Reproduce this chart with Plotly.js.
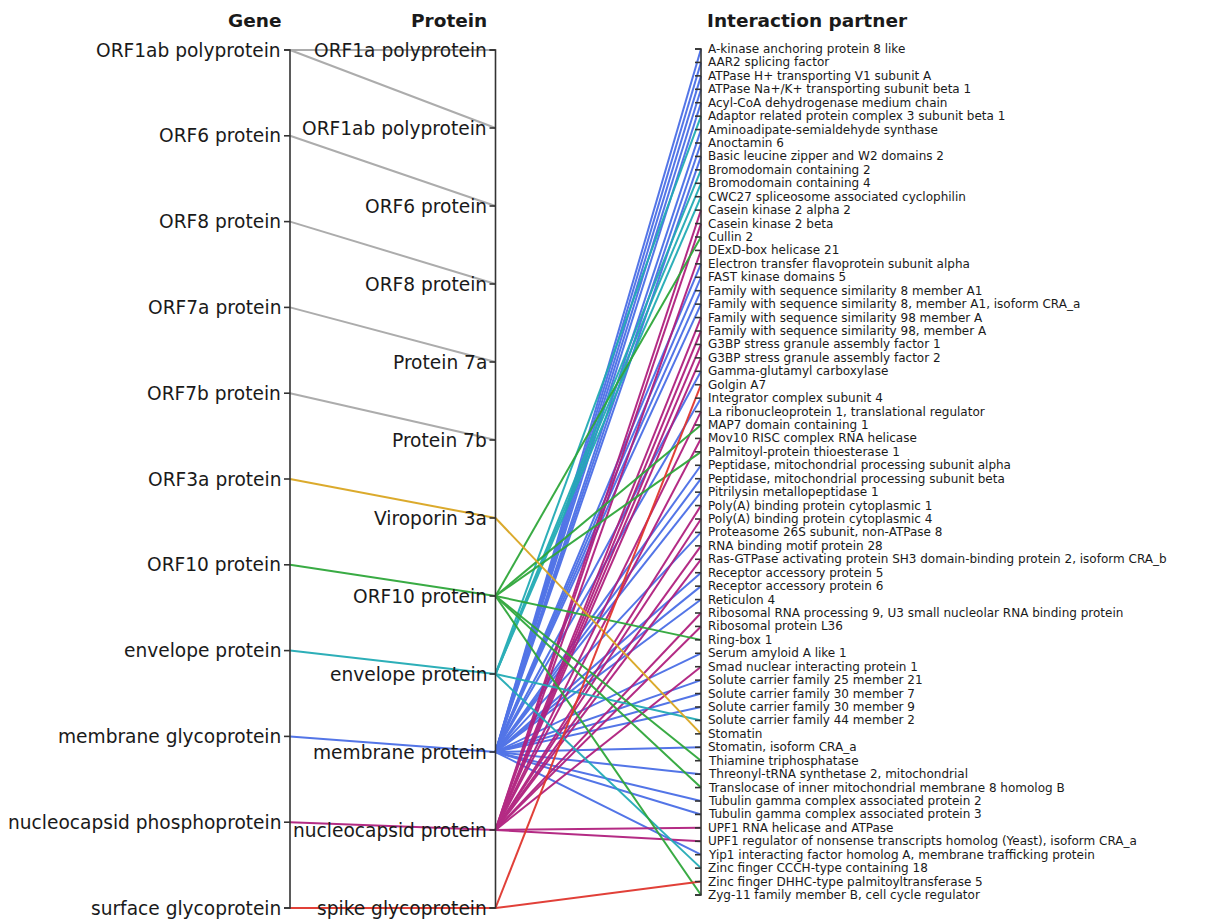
<!DOCTYPE html>
<html>
<head>
<meta charset="utf-8">
<script src="https://cdn.plot.ly/plotly-3.0.1.min.js"></script>
<style>html,body{margin:0;padding:0;background:#fff}#chart{width:1228px;height:921px}</style>
</head>
<body>
<div id="chart"></div>
<script>
// ---------------- DATA ----------------
const axisTitles = ["Gene", "Protein", "Interaction partner"];

const genes = ["ORF1ab polyprotein","ORF6 protein","ORF8 protein","ORF7a protein","ORF7b protein",
  "ORF3a protein","ORF10 protein","envelope protein","membrane glycoprotein",
  "nucleocapsid phosphoprotein","surface glycoprotein"];

const proteins = ["ORF1a polyprotein","ORF1ab polyprotein","ORF6 protein","ORF8 protein","Protein 7a",
  "Protein 7b","Viroporin 3a","ORF10 protein","envelope protein","membrane protein",
  "nucleocapsid protein","spike glycoprotein"];

const partners = [
  "A-kinase anchoring protein 8 like","AAR2 splicing factor","ATPase H+ transporting V1 subunit A",
  "ATPase Na+/K+ transporting subunit beta 1","Acyl-CoA dehydrogenase medium chain",
  "Adaptor related protein complex 3 subunit beta 1","Aminoadipate-semialdehyde synthase","Anoctamin 6",
  "Basic leucine zipper and W2 domains 2","Bromodomain containing 2","Bromodomain containing 4",
  "CWC27 spliceosome associated cyclophilin","Casein kinase 2 alpha 2","Casein kinase 2 beta","Cullin 2",
  "DExD-box helicase 21","Electron transfer flavoprotein subunit alpha","FAST kinase domains 5",
  "Family with sequence similarity 8 member A1","Family with sequence similarity 8, member A1, isoform CRA_a",
  "Family with sequence similarity 98 member A","Family with sequence similarity 98, member A",
  "G3BP stress granule assembly factor 1","G3BP stress granule assembly factor 2","Gamma-glutamyl carboxylase",
  "Golgin A7","Integrator complex subunit 4","La ribonucleoprotein 1, translational regulator",
  "MAP7 domain containing 1","Mov10 RISC complex RNA helicase","Palmitoyl-protein thioesterase 1",
  "Peptidase, mitochondrial processing subunit alpha","Peptidase, mitochondrial processing subunit beta",
  "Pitrilysin metallopeptidase 1","Poly(A) binding protein cytoplasmic 1","Poly(A) binding protein cytoplasmic 4",
  "Proteasome 26S subunit, non-ATPase 8","RNA binding motif protein 28",
  "Ras-GTPase activating protein SH3 domain-binding protein 2, isoform CRA_b","Receptor accessory protein 5",
  "Receptor accessory protein 6","Reticulon 4","Ribosomal RNA processing 9, U3 small nucleolar RNA binding protein",
  "Ribosomal protein L36","Ring-box 1","Serum amyloid A like 1","Smad nuclear interacting protein 1",
  "Solute carrier family 25 member 21","Solute carrier family 30 member 7","Solute carrier family 30 member 9",
  "Solute carrier family 44 member 2","Stomatin","Stomatin, isoform CRA_a","Thiamine triphosphatase",
  "Threonyl-tRNA synthetase 2, mitochondrial","Translocase of inner mitochondrial membrane 8 homolog B",
  "Tubulin gamma complex associated protein 2","Tubulin gamma complex associated protein 3",
  "UPF1 RNA helicase and ATPase","UPF1 regulator of nonsense transcripts homolog (Yeast), isoform CRA_a",
  "Yip1 interacting factor homolog A, membrane trafficking protein","Zinc finger CCCH-type containing 18",
  "Zinc finger DHHC-type palmitoyltransferase 5","Zyg-11 family member B, cell cycle regulator"];

// gene -> protein links
const geneProteinLinks = [
  ["ORF1ab polyprotein","ORF1a polyprotein"],["ORF1ab polyprotein","ORF1ab polyprotein"],
  ["ORF6 protein","ORF6 protein"],["ORF8 protein","ORF8 protein"],["ORF7a protein","Protein 7a"],
  ["ORF7b protein","Protein 7b"],["ORF3a protein","Viroporin 3a"],["ORF10 protein","ORF10 protein"],
  ["envelope protein","envelope protein"],["membrane glycoprotein","membrane protein"],
  ["nucleocapsid phosphoprotein","nucleocapsid protein"],["surface glycoprotein","spike glycoprotein"]];

// protein -> interaction partner links
const viroporinPartners = ["Stomatin"];
const orf10Partners = ["Cullin 2","MAP7 domain containing 1","Palmitoyl-protein thioesterase 1","Ring-box 1",
  "Thiamine triphosphatase","Translocase of inner mitochondrial membrane 8 homolog B",
  "Zyg-11 family member B, cell cycle regulator"];
const envelopePartners = ["Adaptor related protein complex 3 subunit beta 1","Bromodomain containing 2",
  "Bromodomain containing 4","CWC27 spliceosome associated cyclophilin","Solute carrier family 44 member 2",
  "Zinc finger CCCH-type containing 18"];
const membranePartners = ["A-kinase anchoring protein 8 like","AAR2 splicing factor",
  "ATPase H+ transporting V1 subunit A","ATPase Na+/K+ transporting subunit beta 1",
  "Acyl-CoA dehydrogenase medium chain","Aminoadipate-semialdehyde synthase","Anoctamin 6",
  "Basic leucine zipper and W2 domains 2","Electron transfer flavoprotein subunit alpha","FAST kinase domains 5",
  "Family with sequence similarity 8 member A1","Family with sequence similarity 8, member A1, isoform CRA_a",
  "Gamma-glutamyl carboxylase","Integrator complex subunit 4","Peptidase, mitochondrial processing subunit alpha",
  "Peptidase, mitochondrial processing subunit beta","Pitrilysin metallopeptidase 1",
  "Proteasome 26S subunit, non-ATPase 8","Receptor accessory protein 5","Receptor accessory protein 6",
  "Reticulon 4","Serum amyloid A like 1","Solute carrier family 25 member 21","Solute carrier family 30 member 7",
  "Solute carrier family 30 member 9","Stomatin, isoform CRA_a","Threonyl-tRNA synthetase 2, mitochondrial",
  "Tubulin gamma complex associated protein 2","Tubulin gamma complex associated protein 3",
  "Yip1 interacting factor homolog A, membrane trafficking protein"];
const nucleocapsidPartners = ["Casein kinase 2 alpha 2","Casein kinase 2 beta","DExD-box helicase 21",
  "Family with sequence similarity 98 member A","Family with sequence similarity 98, member A",
  "G3BP stress granule assembly factor 1","G3BP stress granule assembly factor 2",
  "La ribonucleoprotein 1, translational regulator","Mov10 RISC complex RNA helicase",
  "Poly(A) binding protein cytoplasmic 1","Poly(A) binding protein cytoplasmic 4","RNA binding motif protein 28",
  "Ras-GTPase activating protein SH3 domain-binding protein 2, isoform CRA_b",
  "Ribosomal RNA processing 9, U3 small nucleolar RNA binding protein","Ribosomal protein L36",
  "Smad nuclear interacting protein 1","UPF1 RNA helicase and ATPase",
  "UPF1 regulator of nonsense transcripts homolog (Yeast), isoform CRA_a"];
const spikePartners = ["Golgin A7","Zinc finger DHHC-type palmitoyltransferase 5"];

const proteinPartnerGroups = [
  ["Viroporin 3a", viroporinPartners],["ORF10 protein", orf10Partners],["envelope protein", envelopePartners],
  ["membrane protein", membranePartners],["nucleocapsid protein", nucleocapsidPartners],
  ["spike glycoprotein", spikePartners]];

// ---------------- STYLE ----------------
const GRAY = "#a8a8a8";
const geneColor = {
  "ORF3a protein": "#d9a521", "ORF10 protein": "#2fa73a", "envelope protein": "#22abb5",
  "membrane glycoprotein": "#4a6ee6", "nucleocapsid phosphoprotein": "#b0207e",
  "surface glycoprotein": "#e0362e"};
const drawOrder = ["gray","membrane glycoprotein","nucleocapsid phosphoprotein","envelope protein",
  "ORF10 protein","ORF3a protein","surface glycoprotein"];
const FONT = "DejaVu Sans, Verdana, sans-serif";
const TEXT = "#1a1a1a";
const AXISC = "#333333";
const W = 1228, H = 921;
const PX_X = 205.5;          // px per axis step
const X0 = 290;              // px of first axis
const Y0 = 50, Y1 = 908;     // px extent of gene/protein axes
const partnerSpan = 846/858; // partner axis shorter
const partnerOff = -1/858;
const tickLen = 6 / PX_X;

// ---------------- BUILD ----------------
function pos(list, name, isPartner) {
  const i = list.indexOf(name);
  const t = i / (list.length - 1);
  return isPartner ? partnerOff + t * partnerSpan : t;
}
const cols = [genes, proteins, partners];

const groups = {};
drawOrder.forEach(k => groups[k] = {x: [], y: []});
geneProteinLinks.forEach(([g, p]) => {
  const k = geneColor[g] ? g : "gray";
  groups[k].x.push(0, 1, null);
  groups[k].y.push(pos(genes, g), pos(proteins, p), null);
});
proteinPartnerGroups.forEach(([p, list]) => {
  const g = geneProteinLinks.find(l => l[1] === p)[0];
  const k = geneColor[g] ? g : "gray";
  list.forEach(pt => {
    groups[k].x.push(1, 2, null);
    groups[k].y.push(pos(proteins, p), pos(partners, pt, true), null);
  });
});

const traces = [];
drawOrder.forEach(k => {
  traces.push({type: "scatter", mode: "lines", x: groups[k].x, y: groups[k].y,
    line: {color: k === "gray" ? GRAY : geneColor[k], width: 2}, opacity: 0.95,
    hoverinfo: "skip", showlegend: false});
});

// axes lines and ticks
const annotations = [];
cols.forEach((list, c) => {
  const isP = c === 2;
  const ys = list.map(n => pos(list, n, isP));
  const ax = {x: [], y: []};
  ax.x.push(c - tickLen, c, c, c - tickLen, null);
  ax.y.push(ys[0], ys[0], ys[ys.length - 1], ys[ys.length - 1], null);
  ys.forEach(y => { ax.x.push(c - tickLen, c, null); ax.y.push(y, y, null); });
  traces.push({type: "scatter", mode: "lines", x: ax.x, y: ax.y,
    line: {color: AXISC, width: 1.6}, hoverinfo: "skip", showlegend: false});
  list.forEach((n, i) => {
    annotations.push({x: c, y: ys[i], xref: "x", yref: "y", text: n, showarrow: false,
      xanchor: isP ? "left" : "right", yanchor: "middle", xshift: isP ? 5 : -7,
      font: {family: FONT, size: isP ? 12 : 18.6, color: TEXT}});
  });
  annotations.push({x: c, y: 1 - 20 / H, xref: "x", yref: "paper", text: "<b>" + axisTitles[c] + "</b>",
    showarrow: false, xanchor: isP ? "left" : "right", yanchor: "middle", xshift: isP ? 4 : -7,
    font: {family: FONT, size: 18.5, color: TEXT}});
});

const layout = {
  width: W, height: H, margin: {l: 0, r: 0, t: 0, b: 0},
  paper_bgcolor: "#ffffff", plot_bgcolor: "#ffffff",
  xaxis: {range: [-X0 / PX_X, (W - X0) / PX_X], visible: false, fixedrange: true},
  yaxis: {range: [1 + (H - Y1) / (Y1 - Y0), -Y0 / (Y1 - Y0)], visible: false, fixedrange: true},
  annotations: annotations, showlegend: false
};
Plotly.newPlot("chart", traces, layout, {displayModeBar: false, staticPlot: true});
</script>
</body>
</html>
